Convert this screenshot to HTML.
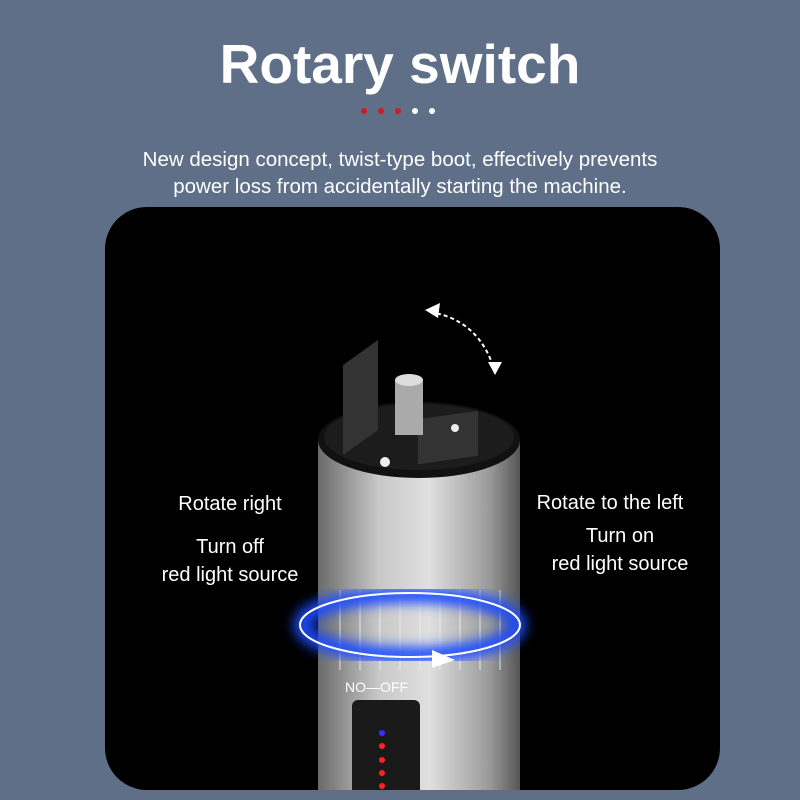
<!DOCTYPE html>
<html><head><style>
body{margin:0;width:800px;height:800px;background:#5e6f87;position:relative;overflow:hidden;font-family:"Liberation Sans",sans-serif;color:#fff}
.t{position:absolute;top:32px;width:800px;text-align:center;font-size:55px;font-weight:bold}
.s{position:absolute;top:146px;width:800px;text-align:center;font-size:20.5px;line-height:27px}
.panel{position:absolute;left:105px;top:207px;width:615px;height:583px;background:#000;border-radius:42px;overflow:hidden}
.lab{position:absolute;font-size:20px;text-align:center;line-height:28px}
</style></head><body>
<div class="t">Rotary switch</div>
<svg style="position:absolute;left:0;top:0" width="800" height="130"><g>
<circle cx="364" cy="111" r="3" fill="#d21c1c"/><circle cx="381" cy="111" r="3" fill="#d21c1c"/><circle cx="398" cy="111" r="3" fill="#d21c1c"/><circle cx="415" cy="111" r="3" fill="#fff"/><circle cx="432" cy="111" r="3" fill="#fff"/></g></svg>
<div class="s">New design concept, twist-type boot, effectively prevents<br>power loss from accidentally starting the machine.</div>
<div class="panel">
<svg width="615" height="583" viewBox="105 207 615 583" style="position:absolute;left:0;top:0">
<defs>
<linearGradient id="g" x1="0" x2="1"><stop offset="0" stop-color="#6a6a6a"/><stop offset=".3" stop-color="#c8c8c8"/><stop offset=".55" stop-color="#e0e0e0"/><stop offset=".85" stop-color="#9a9a9a"/><stop offset="1" stop-color="#555"/></linearGradient>
<filter id="bl"><feGaussianBlur stdDeviation="6"/></filter>
</defs>
<rect x="318" y="440" width="202" height="360" fill="url(#g)"/>
<ellipse cx="419" cy="440" rx="101" ry="38" fill="#111"/>
<ellipse cx="419" cy="437" rx="95" ry="33" fill="#1c1c1c"/>
<rect x="418" y="415" width="60" height="45" fill="#333" transform="skewY(-8)" transform-origin="448 437"/>
<polygon points="343,365 378,340 378,430 343,455" fill="#333"/>
<rect x="395" y="380" width="28" height="55" fill="#aaa"/>
<ellipse cx="409" cy="380" rx="14" ry="6" fill="#ddd"/>
<circle cx="385" cy="462" r="5" fill="#eee"/><circle cx="455" cy="428" r="4" fill="#eee"/>
<g stroke="#eee" stroke-width="1.5" opacity=".6">
<line x1="340" y1="590" x2="340" y2="670"/><line x1="360" y1="590" x2="360" y2="670"/><line x1="380" y1="590" x2="380" y2="670"/><line x1="400" y1="590" x2="400" y2="670"/><line x1="420" y1="590" x2="420" y2="670"/><line x1="440" y1="590" x2="440" y2="670"/><line x1="460" y1="590" x2="460" y2="670"/><line x1="480" y1="590" x2="480" y2="670"/><line x1="500" y1="590" x2="500" y2="670"/></g>
<ellipse cx="410" cy="625" rx="108" ry="30" fill="none" stroke="#1e4cff" stroke-width="16" filter="url(#bl)"/>
<ellipse cx="410" cy="625" rx="110" ry="32" fill="none" stroke="#fff" stroke-width="2"/>
<polygon points="432,650 455,660 432,668" fill="#fff"/>
<path d="M430 312 Q480 320 495 372" fill="none" stroke="#fff" stroke-width="2" stroke-dasharray="4 3"/>
<polygon points="425,310 440,303 438,318" fill="#fff"/><polygon points="488,362 502,362 495,375" fill="#fff"/>
<text x="345" y="692" font-size="14" fill="#fff" font-family="Liberation Sans">NO—OFF</text>
<rect x="352" y="700" width="68" height="100" rx="6" fill="#1a1a1a"/>
<circle cx="382" cy="733" r="3" fill="#33f"/><circle cx="382" cy="746" r="3" fill="#f22"/><circle cx="382" cy="760" r="3" fill="#f22"/><circle cx="382" cy="773" r="3" fill="#f22"/><circle cx="382" cy="786" r="3" fill="#f22"/>
</svg>
</div>
<div class="lab" style="left:160px;top:490px;width:140px">Rotate right</div>
<div class="lab" style="left:140px;top:533px;width:180px">Turn off<br>red light source</div>
<div class="lab" style="left:520px;top:489px;width:180px">Rotate to the left</div>
<div class="lab" style="left:530px;top:522px;width:180px">Turn on<br>red light source</div>
</body></html>
